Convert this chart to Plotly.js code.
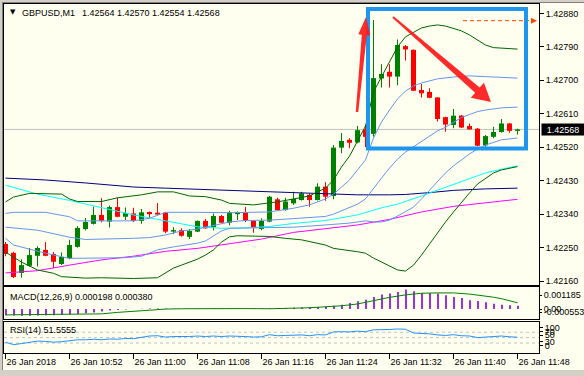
<!DOCTYPE html>
<html><head><meta charset="utf-8">
<script src="https://cdn.plot.ly/plotly-3.0.1.min.js"></script>
<style>
html,body{margin:0;padding:0;background:#d4d0c8;width:584px;height:376px;overflow:hidden}
#edge{position:absolute;left:2px;top:2px;width:582px;height:368px;border-left:1px solid #808080;border-top:1px solid #808080;box-sizing:border-box}
#chart{position:absolute;left:3px;top:3px;width:581px;height:367px}
</style></head><body>
<div id="edge"></div>
<div id="chart"></div>
<script>
// ---- candles (GBPUSD M1, 10:44 .. 11:48) ----
const open=[1.42260,1.42236,1.42182,1.42201,1.42228,1.42244,1.42233,1.42206,1.42222,1.42252,
1.42300,1.42314,1.42338,1.42320,1.42359,1.42333,1.42342,1.42322,1.42346,1.42344,
1.42344,1.42293,1.42297,1.42279,1.42293,1.42322,1.42305,1.42335,1.42317,1.42340,
1.42345,1.42322,1.42300,1.42320,1.42380,1.42351,1.42369,1.42378,1.42392,1.42378,
1.42414,1.42389,1.42519,1.42540,1.42533,1.42568,1.42556,1.42705,1.42723,1.42710,
1.42792,1.42782,1.42674,1.42669,1.42654,1.42601,1.42580,1.42605,1.42577,1.42570,
1.42525,1.42548,1.42561,1.42584,1.42564];
const high=[1.42265,1.42239,1.42219,1.42249,1.42254,1.42265,1.42238,1.42237,1.42271,1.42308,
1.42330,1.42360,1.42383,1.42363,1.42385,1.42358,1.42357,1.42354,1.42347,1.42370,
1.42346,1.42305,1.42302,1.42300,1.42323,1.42327,1.42342,1.42338,1.42349,1.42347,
1.42359,1.42323,1.42329,1.42389,1.42384,1.42384,1.42400,1.42400,1.42396,1.42423,
1.42426,1.42526,1.42558,1.42544,1.42577,1.42580,1.42862,1.42743,1.42743,1.42810,
1.42795,1.42783,1.42690,1.42679,1.42655,1.42602,1.42623,1.42607,1.42584,1.42572,
1.42553,1.42575,1.42596,1.42585,1.42570];
const low=[1.42227,1.42168,1.42169,1.42199,1.42199,1.42227,1.42195,1.42203,1.42219,1.42250,
1.42296,1.42312,1.42318,1.42304,1.42332,1.42324,1.42319,1.42314,1.42329,1.42338,
1.42289,1.42287,1.42279,1.42273,1.42292,1.42301,1.42296,1.42316,1.42310,1.42324,
1.42319,1.42290,1.42297,1.42318,1.42349,1.42349,1.42365,1.42377,1.42360,1.42377,
1.42376,1.42380,1.42504,1.42517,1.42531,1.42521,1.42548,1.42681,1.42681,1.42687,
1.42753,1.42671,1.42654,1.42652,1.42589,1.42562,1.42571,1.42572,1.42567,1.42523,
1.42520,1.42544,1.42559,1.42559,1.42554];
const close=[1.42233,1.42171,1.42203,1.42230,1.42249,1.42228,1.42212,1.42225,1.42257,1.42303,
1.42319,1.42338,1.42322,1.42359,1.42333,1.42343,1.42322,1.42345,1.42340,1.42339,
1.42293,1.42297,1.42282,1.42295,1.42322,1.42302,1.42335,1.42317,1.42345,1.42346,
1.42322,1.42303,1.42322,1.42387,1.42351,1.42374,1.42381,1.42396,1.42378,1.42414,
1.42387,1.42519,1.42537,1.42532,1.42566,1.42548,1.42706,1.42717,1.42710,1.42795,
1.42783,1.42672,1.42665,1.42653,1.42596,1.42581,1.42605,1.42573,1.42568,1.42524,
1.42550,1.42561,1.42584,1.42564,1.42568];

// ---- indicator lines (bar index, price) ----
const navyIdx=[0,5,10,16,20,25,30,35,40,44,48,50,53,56,60,64];
const navyVal=[1.42437,1.42432,1.42424,1.42413,1.42410,1.42406,1.42404,1.42398,1.42394,1.42392,1.42392,1.42393,1.42398,1.42404,1.42408,1.42410];
const cyanIdx=[0,4,8,12,16,20,24,27,30,33,36,40,44,47,49,52,55,58,60,62,64];
const cyanVal=[1.42418,1.42394,1.42377,1.42357,1.42338,1.42322,1.42306,1.42302,1.42303,1.42307,1.42315,1.42323,1.42338,1.42357,1.42367,1.42389,1.42413,1.42437,1.42451,1.42461,1.42470];
const magIdx=[0,4,8,12,16,20,24,28,32,36,40,44,48,52,56,60,64];
const magVal=[1.42182,1.42188,1.42203,1.42217,1.42227,1.42240,1.42248,1.42260,1.42273,1.42291,1.42302,1.42311,1.42326,1.42346,1.42361,1.42370,1.42380];
const ugIdx=[0,1,3,7,8,9,12,14,17,19,21,23,25,27,28,31,34,36,38,39,40,41,42,43,44,45,46,47,48,49,50,51,52,53,54,55,56,57,58,59,60,61,62,64];
const ugVal=[1.42373,1.42386,1.42396,1.42394,1.42381,1.42374,1.42374,1.42384,1.42392,1.42400,1.42400,1.42389,1.42387,1.42378,1.42369,1.42365,1.42373,1.42381,1.42389,1.42400,1.42410,1.42432,1.42467,1.42496,1.42537,1.42577,1.42669,1.42709,1.42749,1.42790,1.42817,1.42830,1.42841,1.42846,1.42849,1.42846,1.42839,1.42833,1.42822,1.42809,1.42795,1.42788,1.42786,1.42784];
const lgIdx=[0,2,4,6,7,10,12,16,19,20,21,22,24,25,26,27,28,29,33,35,37,40,41,44,45,46,47,48,49,50,51,52,53,54,55,56,57,58,59,60,61,62,63,64];
const lgVal=[1.42238,1.42211,1.42190,1.42181,1.42172,1.42168,1.42169,1.42167,1.42169,1.42181,1.42195,1.42203,1.42219,1.42230,1.42244,1.42265,1.42279,1.42282,1.42280,1.42275,1.42271,1.42257,1.42248,1.42239,1.42235,1.42222,1.42211,1.42199,1.42190,1.42187,1.42203,1.42230,1.42260,1.42289,1.42319,1.42346,1.42373,1.42397,1.42421,1.42437,1.42451,1.42459,1.42464,1.42468];
const buIdx=[0,1,5,8,9,16,18,20,24,28,33,36,38,40,41,42,43,44,45,46,47,48,49,50,51,52,53,54,56,58,60,62,64];
const buVal=[1.42342,1.42345,1.42345,1.42333,1.42322,1.42322,1.42329,1.42345,1.42345,1.42344,1.42346,1.42356,1.42365,1.42381,1.42394,1.42413,1.42432,1.42459,1.42486,1.42545,1.42588,1.42620,1.42650,1.42671,1.42685,1.42693,1.42698,1.42704,1.42709,1.42712,1.42710,1.42708,1.42706];
const bmIdx=[0,4,8,10,16,18,20,22,24,26,28,30,33,36,40,41,42,43,44,45,46,47,48,49,50,51,52,53,54,55,56,57,58,59,60,62,64];
const bmVal=[1.42305,1.42297,1.42278,1.42272,1.42275,1.42277,1.42284,1.42295,1.42300,1.42310,1.42319,1.42323,1.42324,1.42328,1.42334,1.42340,1.42349,1.42357,1.42367,1.42381,1.42410,1.42437,1.42464,1.42488,1.42507,1.42521,1.42537,1.42550,1.42564,1.42574,1.42588,1.42600,1.42608,1.42616,1.42620,1.42626,1.42628];
const blIdx=[0,1,3,5,8,15,17,19,21,24,25,26,27,28,33,36,40,43,45,46,47,48,49,50,51,52,53,54,55,56,57,58,59,60,62,64];
const blVal=[1.42275,1.42257,1.42246,1.42235,1.42221,1.42223,1.42227,1.42244,1.42252,1.42262,1.42268,1.42281,1.42295,1.42302,1.42304,1.42305,1.42311,1.42316,1.42322,1.42319,1.42319,1.42324,1.42335,1.42346,1.42359,1.42381,1.42405,1.42429,1.42451,1.42470,1.42486,1.42502,1.42515,1.42526,1.42540,1.42545];

// ---- MACD(12,26,9) ----
const macdHist=[-0.00038,-0.00039,-0.00040,-0.00040,-0.00039,-0.00038,-0.00037,-0.00035,-0.00032,-0.00029,
-0.00025,-0.00020,-0.00014,-0.00009,-0.00005,-0.00002,0.00001,0.00002,0.00003,0.00004,
0.00003,0.00002,0.00001,0.00001,0.00002,0.00002,0.00003,0.00003,0.00004,0.00004,
0.00004,0.00003,0.00003,0.00005,0.00006,0.00007,0.00008,0.00010,0.00012,0.00013,
0.00015,0.00020,0.00027,0.00037,0.00047,0.00057,0.00073,0.00088,0.00094,0.00104,
0.001185,0.00108,0.00098,0.00098,0.00094,0.00084,0.00073,0.00067,0.00053,0.00049,
0.00041,0.00033,0.00027,0.00024,0.000198];
const sigIdx=[0,10,12,14,16,18,20,22,26,30,33,36,38,40,42,44,46,48,50,52,54,56,58,60,61,62,63,64];
const sigVal=[-0.00035,-0.00033,-0.00029,-0.00020,-0.00012,-0.00006,0.00000,0.00002,0.00004,0.00003,0.00002,0.00004,0.00008,0.00014,0.00020,0.00031,0.00051,0.00071,0.00086,0.00096,0.00098,0.00098,0.00091,0.00080,0.00072,0.00063,0.00052,0.00038];

// ---- RSI(14) ----
const rsi=[33,24,28,33,37,36,33,35,38,42,
42,44,42,45,44,47,46,52,56,57,
52,54,53,54,56,54,56,54,56,56,
54,52,53,61,57,58,58,60,57,61,
60,71,72,71,74,72,79,79,80,82,
81,67,66,64,60,58,61,57,56,50,
52,53,56,53,51.5555];
const rsiLevels=[70,50,30];

// ---- axis labels ----
const timeTickIdx=[0,8,16,24,32,40,48,56,64];
const timeTickText=['26 Jan 2018','26 Jan 10:52','26 Jan 11:00','26 Jan 11:08','26 Jan 11:16','26 Jan 11:24','26 Jan 11:32','26 Jan 11:40','26 Jan 11:48'];
const priceTicks=[1.42160,1.42250,1.42340,1.42430,1.42520,1.42610,1.42700,1.42790,1.42880];
const macdTickVals=[0.00085,0,-0.00019];
const macdTickText=['0.001185','0.00','-0.000553'];
const rsiTickVals=[86.8,72,59.7,34.9,19];
const rsiTickText=['100','70','50','30','0'];
const lastBid=1.42568;
const headerSymbol='GBPUSD,M1';
const headerPrices='1.42564 1.42570 1.42554 1.42568';
const macdLabel='MACD(12,26,9) 0.000198 0.000380';
const rsiLabel='RSI(14) 51.5555';

// ---- geometry helpers (pixel -> paper) for hand-drawn markup ----
const PL=4, PW=535, PB=353, PH=349;
const px=a=>(a-PL)/PW, py=b=>(PB-b)/PH;
const boxPx=[368,9,526,148.5];
const arrowsPx=[[357,112,366,17,2.5,5,18,12],[393,17,491,102,2,7,18,20]];
const dashPx=[463,20.7,529];

const idx=close.map((_,i)=>i);
const upI=idx.filter(i=>close[i]>=open[i]), dnI=idx.filter(i=>close[i]<open[i]);
const GREEN='#008000', RED='#ff0000';
const FONT='Liberation Sans, Arial, sans-serif';
const minBody=0.00003;

function wick(ids,col){return {type:'bar',x:ids,base:ids.map(i=>low[i]),y:ids.map(i=>high[i]-low[i]),width:0.125,marker:{color:col,line:{width:0}},xaxis:'x',yaxis:'y',hoverinfo:'skip'};}
function body(ids,col){return {type:'bar',x:ids,base:ids.map(i=>Math.min(open[i],close[i])),y:ids.map(i=>Math.max(Math.abs(close[i]-open[i]),minBody)),width:0.625,marker:{color:col,line:{width:0}},xaxis:'x',yaxis:'y',hoverinfo:'skip'};}
function line(xs,ys,col,xa,ya){return {type:'scatter',mode:'lines',x:xs,y:ys,line:{color:col,width:1},xaxis:xa||'x',yaxis:ya||'y',hoverinfo:'skip'};}

const traces=[
 wick(upI,GREEN),wick(dnI,RED),body(upI,GREEN),body(dnI,RED),
 line(navyIdx,navyVal,'#000080'),
 line(magIdx,magVal,'#ff00ff'),
 line(cyanIdx,cyanVal,'#00ffff'),
 line(ugIdx,ugVal,'#006400'),line(lgIdx,lgVal,'#006400'),
 line(buIdx,buVal,'#6495ed'),line(bmIdx,bmVal,'#6495ed'),line(blIdx,blVal,'#6495ed'),
 {type:'bar',x:idx,y:macdHist,width:0.25,offset:-0.0625,marker:{color:'#9933dd',line:{width:0}},xaxis:'x2',yaxis:'y2',hoverinfo:'skip'},
 line(sigIdx,sigVal,'#008000','x2','y2'),
 line(idx,rsi,'#1e90ff','x3','y3')
];

const xr=[-0.1875,66.6875];
const axBase={showline:true,mirror:true,linecolor:'#000',linewidth:1,showgrid:false,zeroline:false,fixedrange:true,automargin:false};
const tf={family:FONT,size:9,color:'#000'};

function arrowPath(a){
 const [tx,ty,hx,hy,w0,w1,hl,hw]=a;
 const L=Math.hypot(hx-tx,hy-ty), dx=(hx-tx)/L, dy=(hy-ty)/L, nx=-dy, ny=dx;
 const bx=hx-dx*hl, by=hy-dy*hl;
 const pts=[[tx+nx*w0/2,ty+ny*w0/2],[bx+nx*w1/2,by+ny*w1/2],[bx+nx*hw/2,by+ny*hw/2],[hx,hy],
  [bx-nx*hw/2,by-ny*hw/2],[bx-nx*w1/2,by-ny*w1/2],[tx-nx*w0/2,ty-ny*w0/2]];
 return 'M'+pts.map(p=>px(p[0]).toFixed(5)+','+py(p[1]).toFixed(5)).join(' L')+' Z';
}

const shapes=[
 {type:'line',xref:'paper',yref:'y',x0:0,x1:1,y0:lastBid,y1:lastBid,line:{color:'#c0c0c0',width:1},layer:'below'},
 ...rsiLevels.map(v=>({type:'line',xref:'paper',yref:'y3',x0:0,x1:1,y0:v,y1:v,line:{color:'#c0c0c0',width:1,dash:'3px,3px'},layer:'below'})),
 {type:'line',xref:'paper',yref:'paper',x0:px(dashPx[0]),x1:px(dashPx[2]),y0:py(dashPx[1]),y1:py(dashPx[1]),line:{color:'#ff4500',width:1,dash:'4px,3px'}},
 {type:'path',xref:'paper',yref:'paper',path:'M'+px(dashPx[2]+2)+','+py(dashPx[1]-3)+' L'+px(dashPx[2]+8)+','+py(dashPx[1])+' L'+px(dashPx[2]+2)+','+py(dashPx[1]+3)+' Z',fillcolor:'#ff4500',line:{width:0}},
 {type:'rect',xref:'paper',yref:'paper',x0:px(boxPx[0]),x1:px(boxPx[2]),y0:py(boxPx[1]),y1:py(boxPx[3]),line:{color:'#1e96f0',width:4}},
 ...arrowsPx.map(a=>({type:'path',xref:'paper',yref:'paper',path:arrowPath(a),fillcolor:'rgba(255,25,25,0.92)',line:{width:0}}))
];

const ann=(t,xp,yp,extra)=>Object.assign({text:t,xref:'paper',yref:'paper',x:px(xp),y:py(yp),xanchor:'left',yanchor:'middle',showarrow:false,font:tf,borderpad:0},extra||{});
const annotations=[
 ann('▼',8.5,12.5,{font:{family:'DejaVu Sans',size:7,color:'#000'}}),
 ann(headerSymbol,20.5,13),
 ann(headerPrices,81,13),
 ann(macdLabel,8.5,296.5),
 ann(rsiLabel,8.5,330),
 {text:lastBid.toFixed(5),xref:'paper',yref:'y',x:1,xshift:2,y:lastBid,xanchor:'left',yanchor:'middle',showarrow:false,bgcolor:'#000',font:{family:FONT,size:9,color:'#fff'},width:42,height:11,borderpad:0}
];

const layout={
 width:581,height:367,margin:{l:1,r:45,t:1,b:17,pad:0},
 paper_bgcolor:'#fffff0',plot_bgcolor:'#fffff0',showlegend:false,barmode:'overlay',
 hovermode:false,font:tf,
 xaxis:Object.assign({},axBase,{domain:[0,1],range:xr,anchor:'y',showticklabels:false,ticks:''}),
 xaxis2:Object.assign({},axBase,{domain:[0,1],range:xr,anchor:'y2',showticklabels:false,ticks:''}),
 xaxis3:Object.assign({},axBase,{domain:[0,1],range:xr,anchor:'y3',tickmode:'array',tickvals:timeTickIdx,ticktext:timeTickText,ticks:'outside',ticklen:5,tickcolor:'#000',ticklabelposition:'outside right',tickfont:tf}),
 yaxis:Object.assign({},axBase,{domain:[0.19484,1],range:[1.421495,1.429053],anchor:'x',side:'right',tickmode:'array',tickvals:priceTicks,tickformat:'.5f',ticks:'outside',ticklen:4,tickcolor:'#000',tickfont:tf}),
 yaxis2:Object.assign({},axBase,{domain:[0.09742,0.18825],range:[-0.00060,0.00132],anchor:'x2',side:'right',tickmode:'array',tickvals:macdTickVals,ticktext:macdTickText,ticks:'outside',ticklen:2,tickcolor:'#000',tickfont:tf}),
 yaxis3:Object.assign({},axBase,{domain:[0,0.08968],range:[-7,109],anchor:'x3',side:'right',tickmode:'array',tickvals:rsiTickVals,ticktext:rsiTickText,ticks:'outside',ticklen:3,tickcolor:'#000',tickfont:tf}),
 shapes:shapes,annotations:annotations
};
Plotly.newPlot('chart',traces,layout,{staticPlot:true,displayModeBar:false});
</script></body></html>
